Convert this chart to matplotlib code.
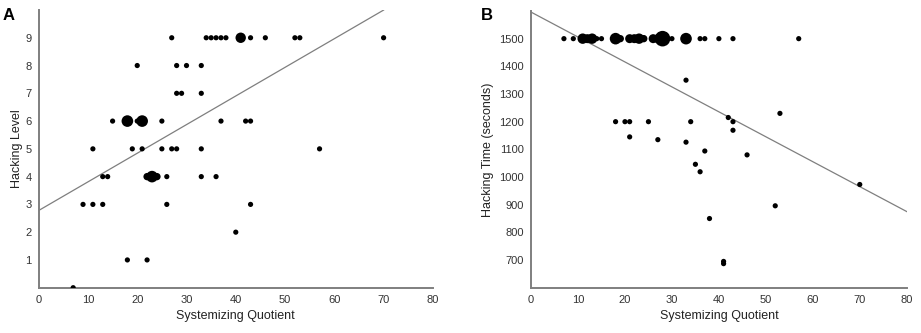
import matplotlib
matplotlib.use("Agg")
import numpy as np
from matplotlib import pyplot as plt

plt.rcParams["font.family"] = ["Liberation Sans", "DejaVu Sans"]

# panel A: systemizing quotient vs hacking level (count = overlapping participants)
sq_a = [27, 34, 35, 36, 37, 38, 41, 43, 46, 52, 53, 70,
        20, 28, 30, 33,
        28, 29, 33,
        15, 18, 20, 21, 25, 37, 42, 43,
        11, 19, 21, 25, 27, 28, 33, 57,
        13, 14, 22, 23, 24, 26, 33, 36,
        9, 11, 13, 26, 43,
        40,
        18, 22,
        7]
level_a = [9] * 12 + [8] * 4 + [7] * 3 + [6] * 8 + [5] * 8 + [4] * 8 + [3] * 5 + [2] + [1] * 2 + [0]
count_a = [1, 1, 1, 1, 1, 1, 4, 1, 1, 1, 1, 1,
           1, 1, 1, 1,
           1, 1, 1,
           1, 5, 1, 5, 1, 1, 1, 1,
           1, 1, 1, 1, 1, 1, 1, 1,
           1, 1, 2, 5, 2, 1, 1, 1,
           1, 1, 1, 1, 1,
           1,
           1, 1,
           1]
fit_a = (2.78, 0.1031)

# panel B: systemizing quotient vs hacking time
sq_b = [7, 9, 11, 12, 13, 14, 15, 18, 19, 21, 22, 23, 24, 26, 27, 28, 30, 33, 36, 37, 40, 43, 57,
        33, 18, 20, 21, 25, 34, 42, 43, 43, 53, 21, 27, 33, 37, 46, 35, 36, 70, 52, 38, 41, 41]
time_b = [1500] * 23 + [1350, 1200, 1200, 1200, 1200, 1200, 1215, 1200, 1169, 1230, 1145, 1135,
                        1126, 1094, 1080, 1046, 1019, 973, 896, 850, 695, 687]
count_b = [1, 1, 4, 3, 4, 1, 1, 5, 2, 3, 3, 4, 2, 3, 3, 9, 1, 5, 1, 1, 1, 1, 1] + [1] * 22
fit_b = (1596, -9.01)

fig = plt.figure(figsize=(9.21, 3.33), dpi=100)
ax_a = fig.add_axes([0.042, 0.136, 0.428, 0.834])
ax_b = fig.add_axes([0.5766, 0.136, 0.4079, 0.831])

grey = "#7f7f7f"


def style(ax):
    for side in ("top", "right"):
        ax.spines[side].set_visible(False)
    for side in ("left", "bottom"):
        ax.spines[side].set_color(grey)
        ax.spines[side].set_linewidth(1.4)
    ax.tick_params(length=0, labelsize=8, colors="#333333", pad=5)
    ax.set_xlim(0, 80)
    ax.set_xticks(np.arange(0, 81, 10))
    ax.set_xlabel("Systemizing Quotient", fontsize=9, color="#222222", labelpad=4)


style(ax_a)
ax_a.scatter(sq_a, level_a, s=np.array(count_a) * 14, color="black", linewidths=0, zorder=3)
xa = np.array([0, 70])
ax_a.plot(xa, fit_a[0] + fit_a[1] * xa, color=grey, lw=0.9)
ax_a.set_ylim(0, 10)
ax_a.set_yticks(range(1, 10))
ax_a.set_ylabel("Hacking Level", fontsize=9, color="#222222", labelpad=2)

style(ax_b)
ax_b.scatter(sq_b, time_b, s=np.array(count_b) * 14, color="black", linewidths=0, zorder=3)
xb = np.array([0, 80])
ax_b.plot(xb, fit_b[0] + fit_b[1] * xb, color=grey, lw=0.9)
ax_b.set_ylim(600, 1600)
ax_b.set_yticks(range(700, 1501, 100))
ax_b.set_ylabel("Hacking Time (seconds)", fontsize=9, color="#222222", labelpad=4)

fig.text(0.003, 0.975, "A", fontsize=12, fontweight="bold", va="top")
fig.text(0.522, 0.975, "B", fontsize=12, fontweight="bold", va="top")

fig.savefig("out.png", dpi=100)
